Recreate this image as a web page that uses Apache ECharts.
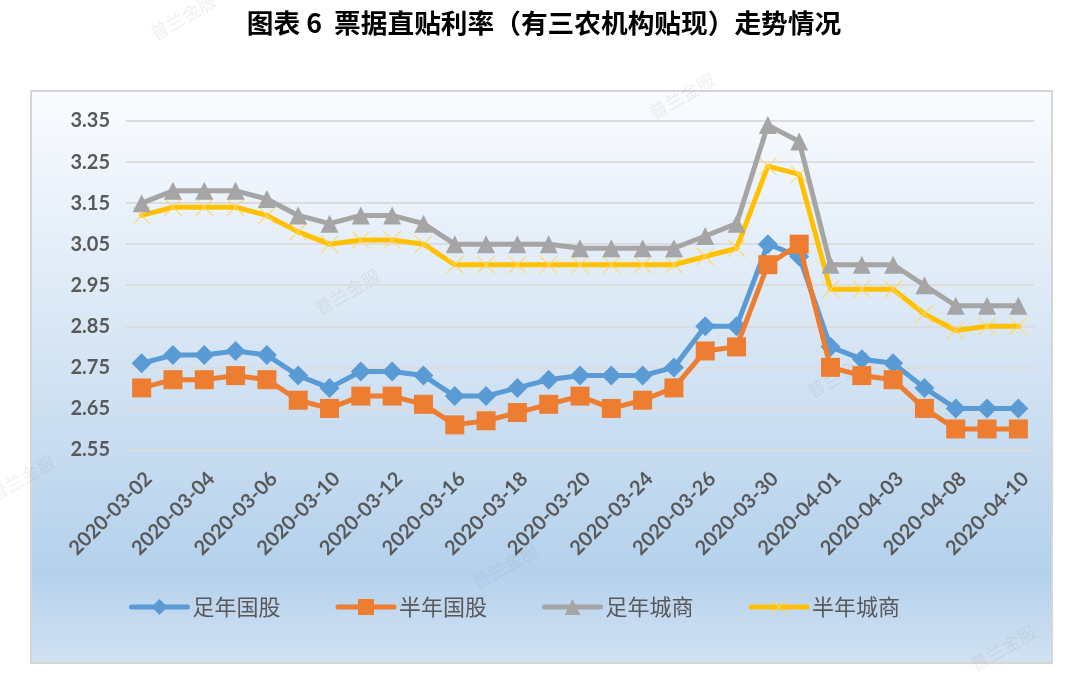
<!DOCTYPE html>
<html>
<head>
<meta charset="utf-8">
<title>票据直贴利率</title>
<script src="https://cdn.jsdelivr.net/npm/echarts@6/dist/echarts.min.js"></script>
<style>
  html, body { margin: 0; padding: 0; background: #fff; }
  #chart { width: 1080px; height: 680px; }
</style>
</head>
<body>
<div id="chart"></div>
<script>
const dates = [
  '2020-03-02', '2020-03-03', '2020-03-04', '2020-03-05', '2020-03-06',
  '2020-03-09', '2020-03-10', '2020-03-11', '2020-03-12', '2020-03-13',
  '2020-03-16', '2020-03-17', '2020-03-18', '2020-03-19', '2020-03-20',
  '2020-03-23', '2020-03-24', '2020-03-25', '2020-03-26', '2020-03-27',
  '2020-03-30', '2020-03-31', '2020-04-01', '2020-04-02', '2020-04-03',
  '2020-04-07', '2020-04-08', '2020-04-09', '2020-04-10'
];
const yTicks = [2.55, 2.65, 2.75, 2.85, 2.95, 3.05, 3.15, 3.25, 3.35];

const fullYearGuogu = [2.76, 2.78, 2.78, 2.79, 2.78, 2.73, 2.70, 2.74, 2.74, 2.73, 2.68, 2.68, 2.70, 2.72, 2.73, 2.73, 2.73, 2.75, 2.85, 2.85, 3.05, 3.02, 2.80, 2.77, 2.76, 2.70, 2.65, 2.65, 2.65];
const halfYearGuogu = [2.70, 2.72, 2.72, 2.73, 2.72, 2.67, 2.65, 2.68, 2.68, 2.66, 2.61, 2.62, 2.64, 2.66, 2.68, 2.65, 2.67, 2.70, 2.79, 2.80, 3.00, 3.05, 2.75, 2.73, 2.72, 2.65, 2.60, 2.60, 2.60];
const fullYearCity = [3.15, 3.18, 3.18, 3.18, 3.16, 3.12, 3.10, 3.12, 3.12, 3.10, 3.05, 3.05, 3.05, 3.05, 3.04, 3.04, 3.04, 3.04, 3.07, 3.10, 3.34, 3.30, 3.00, 3.00, 3.00, 2.95, 2.90, 2.90, 2.90];
const halfYearCity = [3.12, 3.14, 3.14, 3.14, 3.12, 3.08, 3.05, 3.06, 3.06, 3.05, 3.00, 3.00, 3.00, 3.00, 3.00, 3.00, 3.00, 3.00, 3.02, 3.04, 3.24, 3.22, 2.94, 2.94, 2.94, 2.88, 2.84, 2.85, 2.85];

// thin x marker, the built-in symbols have no such shape
const crossSymbol = 'path://M1,0 L12,11 L23,0 L24,1 L13,12 L24,23 L23,24 L12,13 L1,24 L0,23 L11,12 L0,1 Z';

const latin = 'Lato, "Noto Sans CJK SC", sans-serif';
const cjk = '"Noto Sans CJK SC", sans-serif';

const watermark = (x, y) => ({
  type: 'text',
  x: x,
  y: y,
  rotation: Math.PI / 6,
  z: -1,
  style: {
    text: '普兰金服',
    fill: 'rgba(140,140,140,0.13)',
    font: '18px ' + cjk,
    align: 'center',
    verticalAlign: 'middle'
  }
});

const makeLine = (name, values, color, symbol, size, z, markerColor) => ({
  name: name,
  type: 'line',
  data: values,
  z: z,
  symbol: symbol,
  symbolSize: size,
  showAllSymbol: true,
  lineStyle: { color: color, width: 5, cap: 'round', join: 'round' },
  itemStyle: { color: markerColor || color },
  emphasis: { disabled: true }
});

const chart = echarts.init(document.getElementById('chart'));
chart.setOption({
  animation: false,
  title: {
    text: '图表 6  票据直贴利率（有三农机构贴现）走势情况',
    left: 539,
    top: 5,
    textAlign: 'center',
    textStyle: { fontFamily: '"Noto Sans CJK TC", sans-serif', fontSize: 26.7, fontWeight: 'bold', color: '#000' }
  },
  graphic: [
    {
      type: 'rect',
      z: -2,
      shape: { x: 31, y: 91, width: 1021, height: 572 },
      style: {
        stroke: '#d6d6d6',
        lineWidth: 2,
        fill: new echarts.graphic.LinearGradient(0, 0, 0, 1, [
          { offset: 0, color: '#fafcff' },
          { offset: 0.45, color: '#d6e5f4' },
          { offset: 0.84, color: '#b4d1ec' },
          { offset: 1, color: '#d2e2f3' }
        ])
      }
    },
    watermark(183, 17),
    watermark(682, 96),
    watermark(347, 292),
    watermark(22, 478),
    watermark(505, 566),
    watermark(840, 375),
    watermark(1003, 648)
  ],
  legend: {
    left: 124,
    top: 591,
    itemWidth: 56,
    itemHeight: 20,
    itemGap: 55,
    lineStyle: { width: 5, cap: 'round' },
    textStyle: { fontFamily: cjk, fontSize: 22, color: '#595959' },
    data: ['足年国股', '半年国股', '足年城商', '半年城商']
  },
  grid: { left: 126, right: 46, top: 121, height: 328.5 },
  xAxis: {
    type: 'category',
    data: dates,
    axisLine: { show: false },
    axisTick: { show: false },
    axisLabel: {
      interval: 1,
      rotate: 45,
      margin: 19,
      verticalAlign: 'top',
      fontFamily: latin,
      fontSize: 20,
      fontWeight: 'bold',
      color: '#595959'
    }
  },
  yAxis: {
    type: 'value',
    min: 2.55,
    max: 3.35,
    axisLine: { show: false },
    axisTick: { show: false, customValues: yTicks },
    axisLabel: {
      customValues: yTicks,
      formatter: v => v.toFixed(2),
      margin: 16,
      padding: [2, 0, 0, 0],
      fontFamily: latin,
      fontSize: 20,
      fontWeight: 'bold',
      color: '#595959'
    },
    splitLine: { lineStyle: { color: '#dcdcdc', width: 2 } }
  },
  series: [
    makeLine('足年国股', fullYearGuogu, '#5b9bd5', 'diamond', 20, 2),
    makeLine('半年国股', halfYearGuogu, '#ed7d31', 'rect', 19, 3),
    makeLine('足年城商', fullYearCity, '#a5a5a5', 'triangle', 18, 5),
    makeLine('半年城商', halfYearCity, '#ffc000', crossSymbol, 18, 4, '#ffd75e')
  ]
});
</script>
</body>
</html>
